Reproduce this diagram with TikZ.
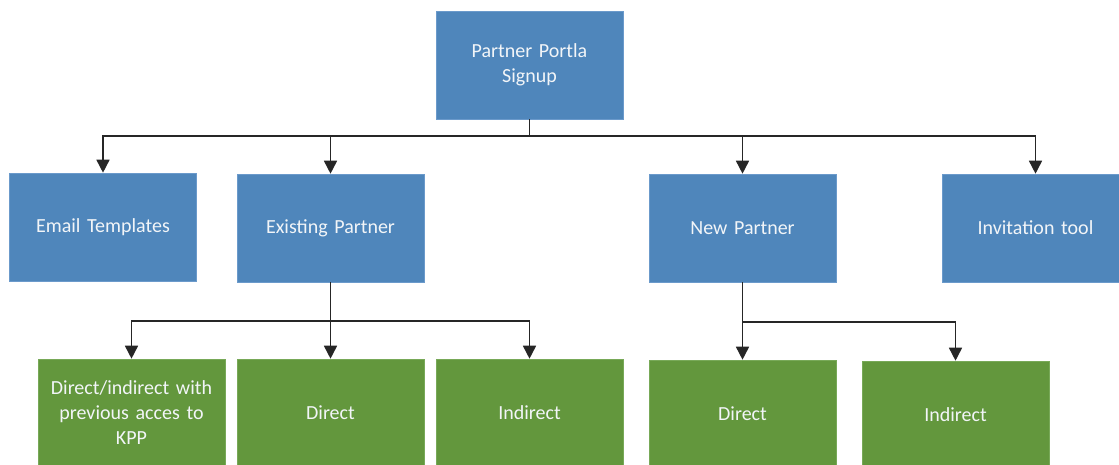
\documentclass[tikz,border=0pt]{standalone}
\usepackage{fontspec}
\setmainfont{Carlito}
\usetikzlibrary{arrows.meta}
\definecolor{boxblue}{HTML}{4F86BB}
\definecolor{boxblueedge}{HTML}{6B9ACB}
\definecolor{boxgreen}{HTML}{63973D}
\definecolor{boxgreenedge}{HTML}{78A958}
\definecolor{labeltext}{HTML}{F2F5F8}
\begin{document}
\begin{tikzpicture}[x=1pt,y=-1pt,
  card/.style={rectangle, minimum width=187pt, minimum height=108pt,
    inner sep=0pt, align=center, text width=175pt, text=labeltext,
    font=\fontsize{20}{25}\selectfont, line width=0.6pt},
  bluecard/.style={card, fill=boxblue, draw=boxblueedge},
  greencard/.style={card, fill=boxgreen, draw=boxgreenedge},
  link/.style={draw=black!85, line width=1.6pt,
    -{Triangle[length=13pt,width=13pt]}},
  wire/.style={draw=black!85, line width=1.6pt}]
\useasboundingbox (0,0) rectangle (1119,464);
\clip (0,0) rectangle (1119,464);

% top level
\node[bluecard] (signup) at (529.5,65) {Partner Portla\\Signup};

% second level
\node[bluecard] (email) at (103,227) {Email Templates};
\node[bluecard] (existing) at (330.5,228) {Existing Partner};
\node[bluecard] (new) at (742.5,228) {New Partner};
\node[bluecard] (invite) at (1035.5,228) {Invitation tool};

% third level
\node[greencard] (prevkpp) at (131.5,413) {Direct/indirect with\\previous acces to\\KPP};
\node[greencard] (exdirect) at (330.5,413) {Direct};
\node[greencard] (exindirect) at (529.5,413) {Indirect};
\node[greencard] (nwdirect) at (742.5,414) {Direct};
\node[greencard] (nwindirect) at (955.5,415) {Indirect};

% bus coordinates
\coordinate (busA) at (529.5,136);
\coordinate (busB) at (330.5,321);
\coordinate (busC) at (742.5,322);

% connectors from the signup box
\draw[wire] (signup.south) -- (busA);
\draw[link] (busA) -| (email.north);
\draw[link] (busA) -| (existing.north);
\draw[link] (busA) -| (new.north);
\draw[link] (busA) -| (invite.north);

% connectors from existing partner
\draw[wire] (existing.south) -- (busB);
\draw[link] (busB) -| (prevkpp.north);
\draw[link] (busB) -- (exdirect.north);
\draw[link] (busB) -| (exindirect.north);

% connectors from new partner
\draw[wire] (new.south) -- (busC);
\draw[link] (busC) -- (nwdirect.north);
\draw[link] (busC) -| (nwindirect.north);
\end{tikzpicture}
\end{document}
